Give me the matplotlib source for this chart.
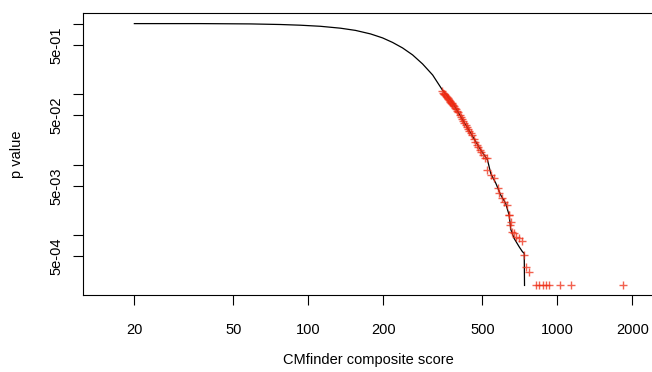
import matplotlib.pyplot as plt

plt.rcParams['font.family'] = ['Liberation Sans', 'DejaVu Sans']

# null distribution curve (score, p value)
curve_score = [20, 36.8, 58.4, 77.2, 92.9, 111.8, 134.5, 154.6, 177.7, 198.6, 217.8,
               238.9, 262.1, 287.5, 315.5, 345, 384, 409, 449, 492, 524, 540, 566,
               592, 620, 640, 650, 670, 702, 724, 736, 738]
curve_p = [1.0, 1.0, 0.99, 0.971, 0.949, 0.916, 0.861, 0.801, 0.714, 0.627, 0.541,
           0.452, 0.360, 0.268, 0.187, 0.115, 0.0703, 0.048, 0.0279, 0.0162, 0.0117,
           0.0075, 0.00545, 0.00372, 0.00283, 0.00193, 0.00121, 0.000904, 0.000687,
           0.000583, 0.000553, 0.000194]

# observed hits (score, p value)
hit_score = [343, 347, 350, 352, 355, 357, 360, 362, 364, 367, 369, 372, 374, 376, 379,
             382, 385, 388, 392, 396, 400, 405, 409, 413, 418, 422, 428, 432, 437, 443,
             449, 455, 462, 468, 474, 480, 488, 494, 502, 510, 520, 524, 540, 555, 575,
             582, 602, 609, 630, 638, 640, 650, 646, 660, 670, 681, 702, 718, 735, 747,
             770, 820, 845, 872, 899, 927, 1026, 1133, 1830]
hit_p = [0.110, 0.105, 0.102, 0.099, 0.096, 0.093, 0.090, 0.088, 0.085, 0.083, 0.080,
         0.078, 0.076, 0.074, 0.072, 0.070, 0.067, 0.064, 0.061, 0.058, 0.055, 0.051,
         0.048, 0.045, 0.042, 0.039, 0.036, 0.034, 0.032, 0.030, 0.028, 0.026, 0.023,
         0.021, 0.019, 0.018, 0.016, 0.015, 0.0135, 0.0125, 0.0124, 0.0084, 0.00714,
         0.00648, 0.00467, 0.00396, 0.00337, 0.00296, 0.00268, 0.00193, 0.00193, 0.00155,
         0.00140, 0.00112, 0.00106, 0.00095, 0.00090, 0.00084, 0.00052, 0.000357,
         0.000303, 0.000194, 0.000194, 0.000194, 0.000194, 0.000194, 0.000194, 0.000194,
         0.000194]

x_ticks = [20, 50, 100, 200, 500, 1000, 2000]
y_ticks = [1, 0.5, 0.1, 0.05, 0.01, 0.005, 0.001, 0.0005]
y_labels = ['', '5e-01', '', '5e-02', '', '5e-03', '', '5e-04']

fig = plt.figure(figsize=(6.52, 3.72), dpi=100)
ax = fig.add_axes([0.1268, 0.207, 0.876, 0.759])

ax.plot(curve_score, curve_p, color='black', lw=0.9)
ax.plot(hit_score, hit_p, linestyle='none', marker='+', ms=6, mew=1.0,
        color='#ee2c14', alpha=0.75)

ax.set_xscale('log')
ax.set_yscale('log')
ax.set_xlim(12.4, 2440)
ax.set_ylim(1.42e-4, 1.43)
ax.minorticks_off()
ax.set_xticks(x_ticks)
ax.set_xticklabels([str(t) for t in x_ticks])
ax.set_yticks(y_ticks)
ax.set_yticklabels(y_labels)
plt.setp(ax.get_yticklabels(), rotation=90, va='center')

ax.tick_params(axis='both', length=7, width=0.8, labelsize=10.5)
ax.tick_params(axis='x', pad=13)
ax.tick_params(axis='y', pad=7)
for s in ax.spines.values():
    s.set_linewidth(0.8)

ax.set_xlabel('CMfinder composite score', fontsize=10.5, labelpad=12)
ax.set_ylabel('p value', fontsize=10.5, labelpad=18)

fig.savefig('out.png', dpi=100)
